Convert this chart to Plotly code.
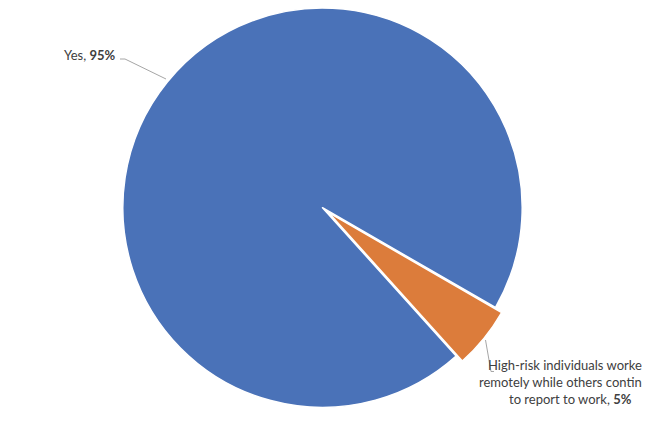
import plotly.graph_objects as go

W, H = 645, 426

labels = ["Yes", "High-risk individuals worked remotely while others continued to report to work"]
values = [95, 5]
colors = ["#4A72B8", "#DC7C3B"]
pulls = [0, 0.04]
# the label of the small slice as it shows in the chart (wrapped, cut at the right edge)
orange_lines = ["High-risk individuals worke", "remotely while others contin", "to report to work, <b>5%</b>"]


def px(x, y):
    # pixel position -> paper coords
    return x / W, 1 - y / H


fig = go.Figure(
    go.Pie(
        labels=labels,
        values=values,
        sort=False,
        direction="clockwise",
        rotation=138,
        pull=pulls,
        textinfo="none",
        marker=dict(colors=colors, line=dict(color="white", width=1.5)),
        domain=dict(x=[0, 1], y=[0.025, 1]),
        hoverinfo="label+percent",
    )
)

font = dict(family="Lato, Carlito, Calibri, sans-serif", size=13, color="#404040")

yes_x, yes_y = px(118, 55)
fig.add_annotation(
    x=yes_x, y=yes_y, xref="paper", yref="paper", xanchor="right", yanchor="middle",
    text=f"{labels[0]}, <b>{values[0]}%</b>", showarrow=False, font=font,
)

line_pos = [(644, 365), (644, 382), (634, 399)]
for txt, (x, y) in zip(orange_lines, line_pos):
    ax, ay = px(x, y)
    fig.add_annotation(
        x=ax, y=ay, xref="paper", yref="paper", xanchor="right", yanchor="middle",
        text=txt, showarrow=False, font=font,
    )

# leader lines
leaders = [
    [(120, 59), (125, 59), (166, 79)],
    [(485.5, 340), (491, 371.5), (494, 371.5)],
]
for pts in leaders:
    path = "M " + " L ".join(f"{px(x, y)[0]},{px(x, y)[1]}" for x, y in pts)
    fig.add_shape(type="path", path=path, xref="paper", yref="paper",
                  line=dict(color="#A6A6A6", width=1))

fig.update_layout(
    width=W, height=H,
    margin=dict(l=0, r=0, t=0, b=0),
    paper_bgcolor="white",
    plot_bgcolor="white",
    showlegend=False,
)

fig.write_html(
    "out.html",
    config={"displayModeBar": False},
    post_script="document.body.style.margin='0';document.body.style.overflow='hidden';",
)
